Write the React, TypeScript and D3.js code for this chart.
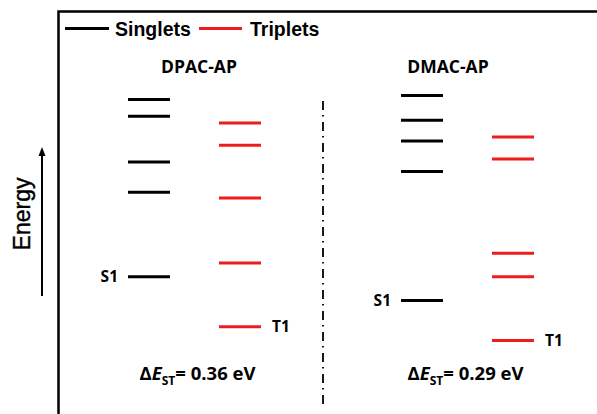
import React from "react";
import * as d3 from "d3";

// Energy levels in eV for each molecule
const molecules = ["DPAC-AP", "DMAC-AP"];
const dpacSinglets = [4.14, 4.02, 3.69, 3.47, 2.86];
const dpacTriplets = [3.97, 3.81, 3.43, 2.96, 2.5];
const dmacSinglets = [4.17, 3.99, 3.84, 3.62, 2.69];
const dmacTriplets = [3.87, 3.71, 3.03, 2.86, 2.4];
const deltaLabels = ["0.36", "0.29"];
const legendItems = ["Singlets", "Triplets"];

const W = 597;
const H = 414;
const RED = "#ee1c1c";
const BOLD_FONT = "'Open Sans', Lato, sans-serif";
const ARIAL = "'Liberation Sans', Arial, sans-serif";

export default function App() {
  const y = d3.scaleLinear().domain([2.5, 4.0]).range([326.7, 118.95]);
  const xGroup = d3.scalePoint<string>().domain(molecules).range([194.5, 467.5]);
  const colOffset = 45.5;
  const halfLen = 21;

  const sets = [
    { name: molecules[0], s: dpacSinglets, t: dpacTriplets, delta: deltaLabels[0], titleDx: 4.5, dDx: 3 },
    { name: molecules[1], s: dmacSinglets, t: dmacTriplets, delta: deltaLabels[1], titleDx: -19.5, dDx: -2 },
  ];

  const levelLine = (cx: number, e: number, color: string, key: string) => (
    <line key={key} x1={cx - halfLen} x2={cx + halfLen} y1={y(e)} y2={y(e)} stroke={color} strokeWidth={3} />
  );

  return (
    <svg width={W} height={H} style={{ position: "absolute", left: 0, top: 0, background: "#fff" }}>
      <rect x={0} y={0} width={W} height={H} fill="#fff" />
      {/* frame */}
      <rect x={58.5} y={11.5} width={600} height={500} fill="none" stroke="#000" strokeWidth={2.5} />

      {/* legend */}
      <line x1={65} x2={109} y1={28.5} y2={28.5} stroke="#000" strokeWidth={3} />
      <text x={115} y={35.5} fontFamily={ARIAL} fontWeight="bold" fontSize={19.5} fill="#000">{legendItems[0]}</text>
      <line x1={199} x2={242} y1={28.5} y2={28.5} stroke={RED} strokeWidth={3} />
      <text x={250} y={35.5} fontFamily={ARIAL} fontWeight="bold" fontSize={19.5} fill="#000">{legendItems[1]}</text>

      {/* energy axis arrow */}
      <line x1={42} x2={42} y1={296} y2={154} stroke="#000" strokeWidth={2} />
      <path d="M42,147 L38.5,156 L45.5,156 Z" fill="#000" />
      <text
        transform="translate(30,214) rotate(-90)"
        textAnchor="middle"
        fontFamily={ARIAL}
        fontSize={23}
        fill="#000"
        stroke="#000"
        strokeWidth={0.4}
      >
        Energy
      </text>

      {/* separator */}
      <line x1={323} x2={323} y1={101} y2={404} stroke="#000" strokeWidth={1.8} strokeDasharray="9,5,1.5,5.5" />

      {sets.map((m, i) => {
        const cx = xGroup(m.name) as number;
        const sx = cx - colOffset;
        const tx = cx + colOffset;
        const s1 = m.s[m.s.length - 1];
        const t1 = m.t[m.t.length - 1];
        return (
          <g key={m.name}>
            <text x={cx + m.titleDx} y={73} textAnchor="middle" fontFamily={BOLD_FONT} fontWeight="bold" fontSize={17.5} fill="#000">
              {m.name}
            </text>
            {m.s.map((e, j) => levelLine(sx, e, "#000", `s${i}-${j}`))}
            {m.t.map((e, j) => levelLine(tx, e, RED, `t${i}-${j}`))}
            <text x={sx - halfLen - 10} y={y(s1) + 5.5} textAnchor="end" fontFamily={BOLD_FONT} fontWeight="bold" fontSize={15.5} fill="#000">
              S1
            </text>
            <text x={tx + halfLen + 11} y={y(t1) + 5.5} fontFamily={BOLD_FONT} fontWeight="bold" fontSize={15.5} fill="#000">
              T1
            </text>
            <text x={cx + m.dDx} y={380} textAnchor="middle" fontFamily={BOLD_FONT} fontWeight="bold" fontSize={18.5} fill="#000">
              <tspan>Δ</tspan>
              <tspan fontStyle="italic">E</tspan>
              <tspan fontSize={12} dy={5}>ST</tspan>
              <tspan dy={-5}>{`= ${m.delta} eV`}</tspan>
            </text>
          </g>
        );
      })}
    </svg>
  );
}
